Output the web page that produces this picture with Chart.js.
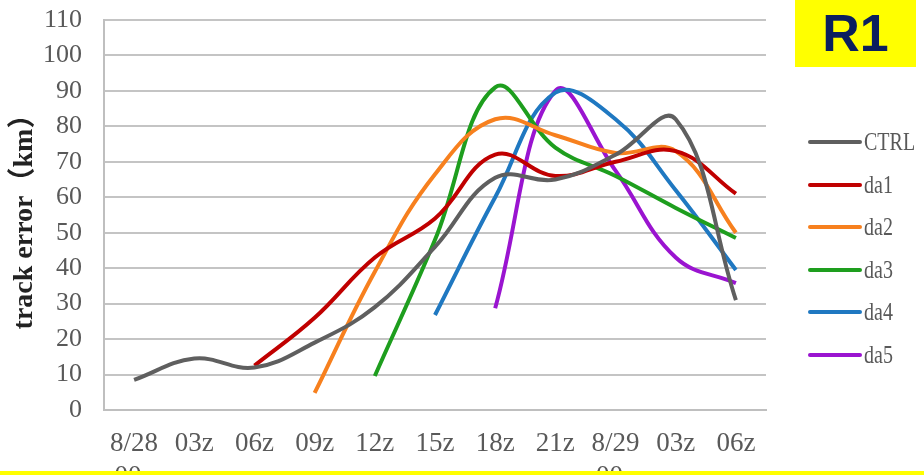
<!DOCTYPE html>
<html>
<head>
<meta charset="utf-8">
<script src="https://cdn.jsdelivr.net/npm/chart.js@4.4.1/dist/chart.umd.min.js"></script>
<style>
    body { margin: 0; background: #fff; }
    #wrap { position: relative; width: 924px; height: 475px; overflow: hidden; }
    #r1 {
        position: absolute; left: 795px; top: 0; width: 121px; height: 67px;
        background: #ffff00; color: #0b1f5e;
        font: bold 52px "Liberation Sans", Arial, sans-serif;
        text-align: center; line-height: 67px;
    }
    #bottomBar { position: absolute; left: 0; top: 471px; width: 924px; height: 4px; background: #ffff00; }
    #legend { position: absolute; left: 808px; top: 0; }
    .item { position: absolute; left: 0; height: 30px; display: flex; align-items: center; white-space: nowrap; }
    .item span.line { display: inline-block; width: 54px; height: 4px; border-radius: 2px; }
    .item span.txt {
        display: inline-block; font: 25px "Liberation Serif", serif; color: #595959;
        margin-left: 2px; transform: scaleX(0.8); transform-origin: left center;
    }
</style>
</head>
<body>
<div id="wrap">
    <canvas id="lineChart" width="924" height="475"></canvas>
    <div id="legend"></div>
    <div id="r1">R1</div>
    <div id="bottomBar"></div>
</div>
<script>
// x categories (3-hourly times)
const labels = [['8/28', '00z'], '03z', '06z', '09z', '12z', '15z', '18z', '21z', ['8/29', '00z'], '03z', '06z'];

// track error (km) per experiment
const ctrl = [8.5, 14.5, 12, 19, 29, 46, 65.5, 65, 72, 82, 31];
const da1 = [null, null, 12.5, 26, 43, 54, 72, 66, 70, 73, 61];
const da2 = [null, null, null, 4.8, 39, 66.5, 82, 77.5, 72.5, 73, 50];
const da3 = [null, null, null, null, 9.6, 48, 91, 74, 66, 57, 48.5];
const da4 = [null, null, null, null, null, 26.8, 60, 89.5, 82, 62, 39.5];
const da5 = [null, null, null, null, null, null, 28.7, 90, 67.5, 43, 35.8];

const seriesNames = ['CTRL', 'da1', 'da2', 'da3', 'da4', 'da5'];
const seriesData = [ctrl, da1, da2, da3, da4, da5];
const colors = ['#5f5f5f', '#c00000', '#f7801e', '#1e9e1e', '#1f78c1', '#9a14d0'];

const datasets = seriesNames.map(function (name, i) {
    return {
        label: name,
        data: seriesData[i],
        borderColor: colors[i],
        backgroundColor: colors[i],
        borderWidth: 4,
        pointRadius: 0,
        tension: 0.4,
        fill: false
    };
});

const serif = '"Liberation Serif", "Noto Sans CJK SC", serif';

const config = {
    type: 'line',
    data: { labels: labels, datasets: datasets },
    options: {
        responsive: false,
        animation: false,
        layout: { padding: { left: 0, right: 158, top: 20, bottom: 0 } },
        plugins: {
            legend: { display: false },
            tooltip: { enabled: false }
        },
        scales: {
            x: {
                offset: true,
                grid: { display: false },
                border: { display: true, color: '#bfbfbf', width: 2 },
                ticks: {
                    color: '#595959',
                    padding: 10,
                    maxRotation: 0,
                    autoSkip: false,
                    font: { family: serif, size: 27, lineHeight: 1.2 }
                },
                afterFit: function (s) { s.height = 65; }
            },
            y: {
                min: 0,
                max: 110,
                grid: { color: '#c4c4c4', lineWidth: 2, drawTicks: false },
                border: { display: true, color: '#bfbfbf', width: 2 },
                ticks: {
                    stepSize: 10,
                    autoSkip: false,
                    color: '#595959',
                    padding: 22,
                    font: { family: serif, size: 26 }
                },
                title: {
                    display: true,
                    text: 'track error（km）',
                    color: '#222',
                    padding: { top: 8, bottom: 0 },
                    font: { family: serif, size: 28, weight: 'bold' }
                },
                afterFit: function (s) {
                    s.width = 104;
                    s.paddingTop = 0;
                    s.paddingBottom = 0;
                }
            }
        }
    }
};

const ctx = document.getElementById('lineChart').getContext('2d');
const chartInstance = new Chart(ctx, config);

// legend on the right, built from the datasets
const legendBox = document.getElementById('legend');
const legendTops = [142, 184.5, 227, 269.5, 312, 354.5];
chartInstance.data.datasets.forEach(function (ds, i) {
    const item = document.createElement('div');
    item.className = 'item';
    item.style.top = (legendTops[i] - 15) + 'px';
    item.innerHTML = '<span class="line" style="background:' + ds.borderColor + '"></span><span class="txt">' + ds.label + '</span>';
    legendBox.appendChild(item);
});
</script>
</body>
</html>
